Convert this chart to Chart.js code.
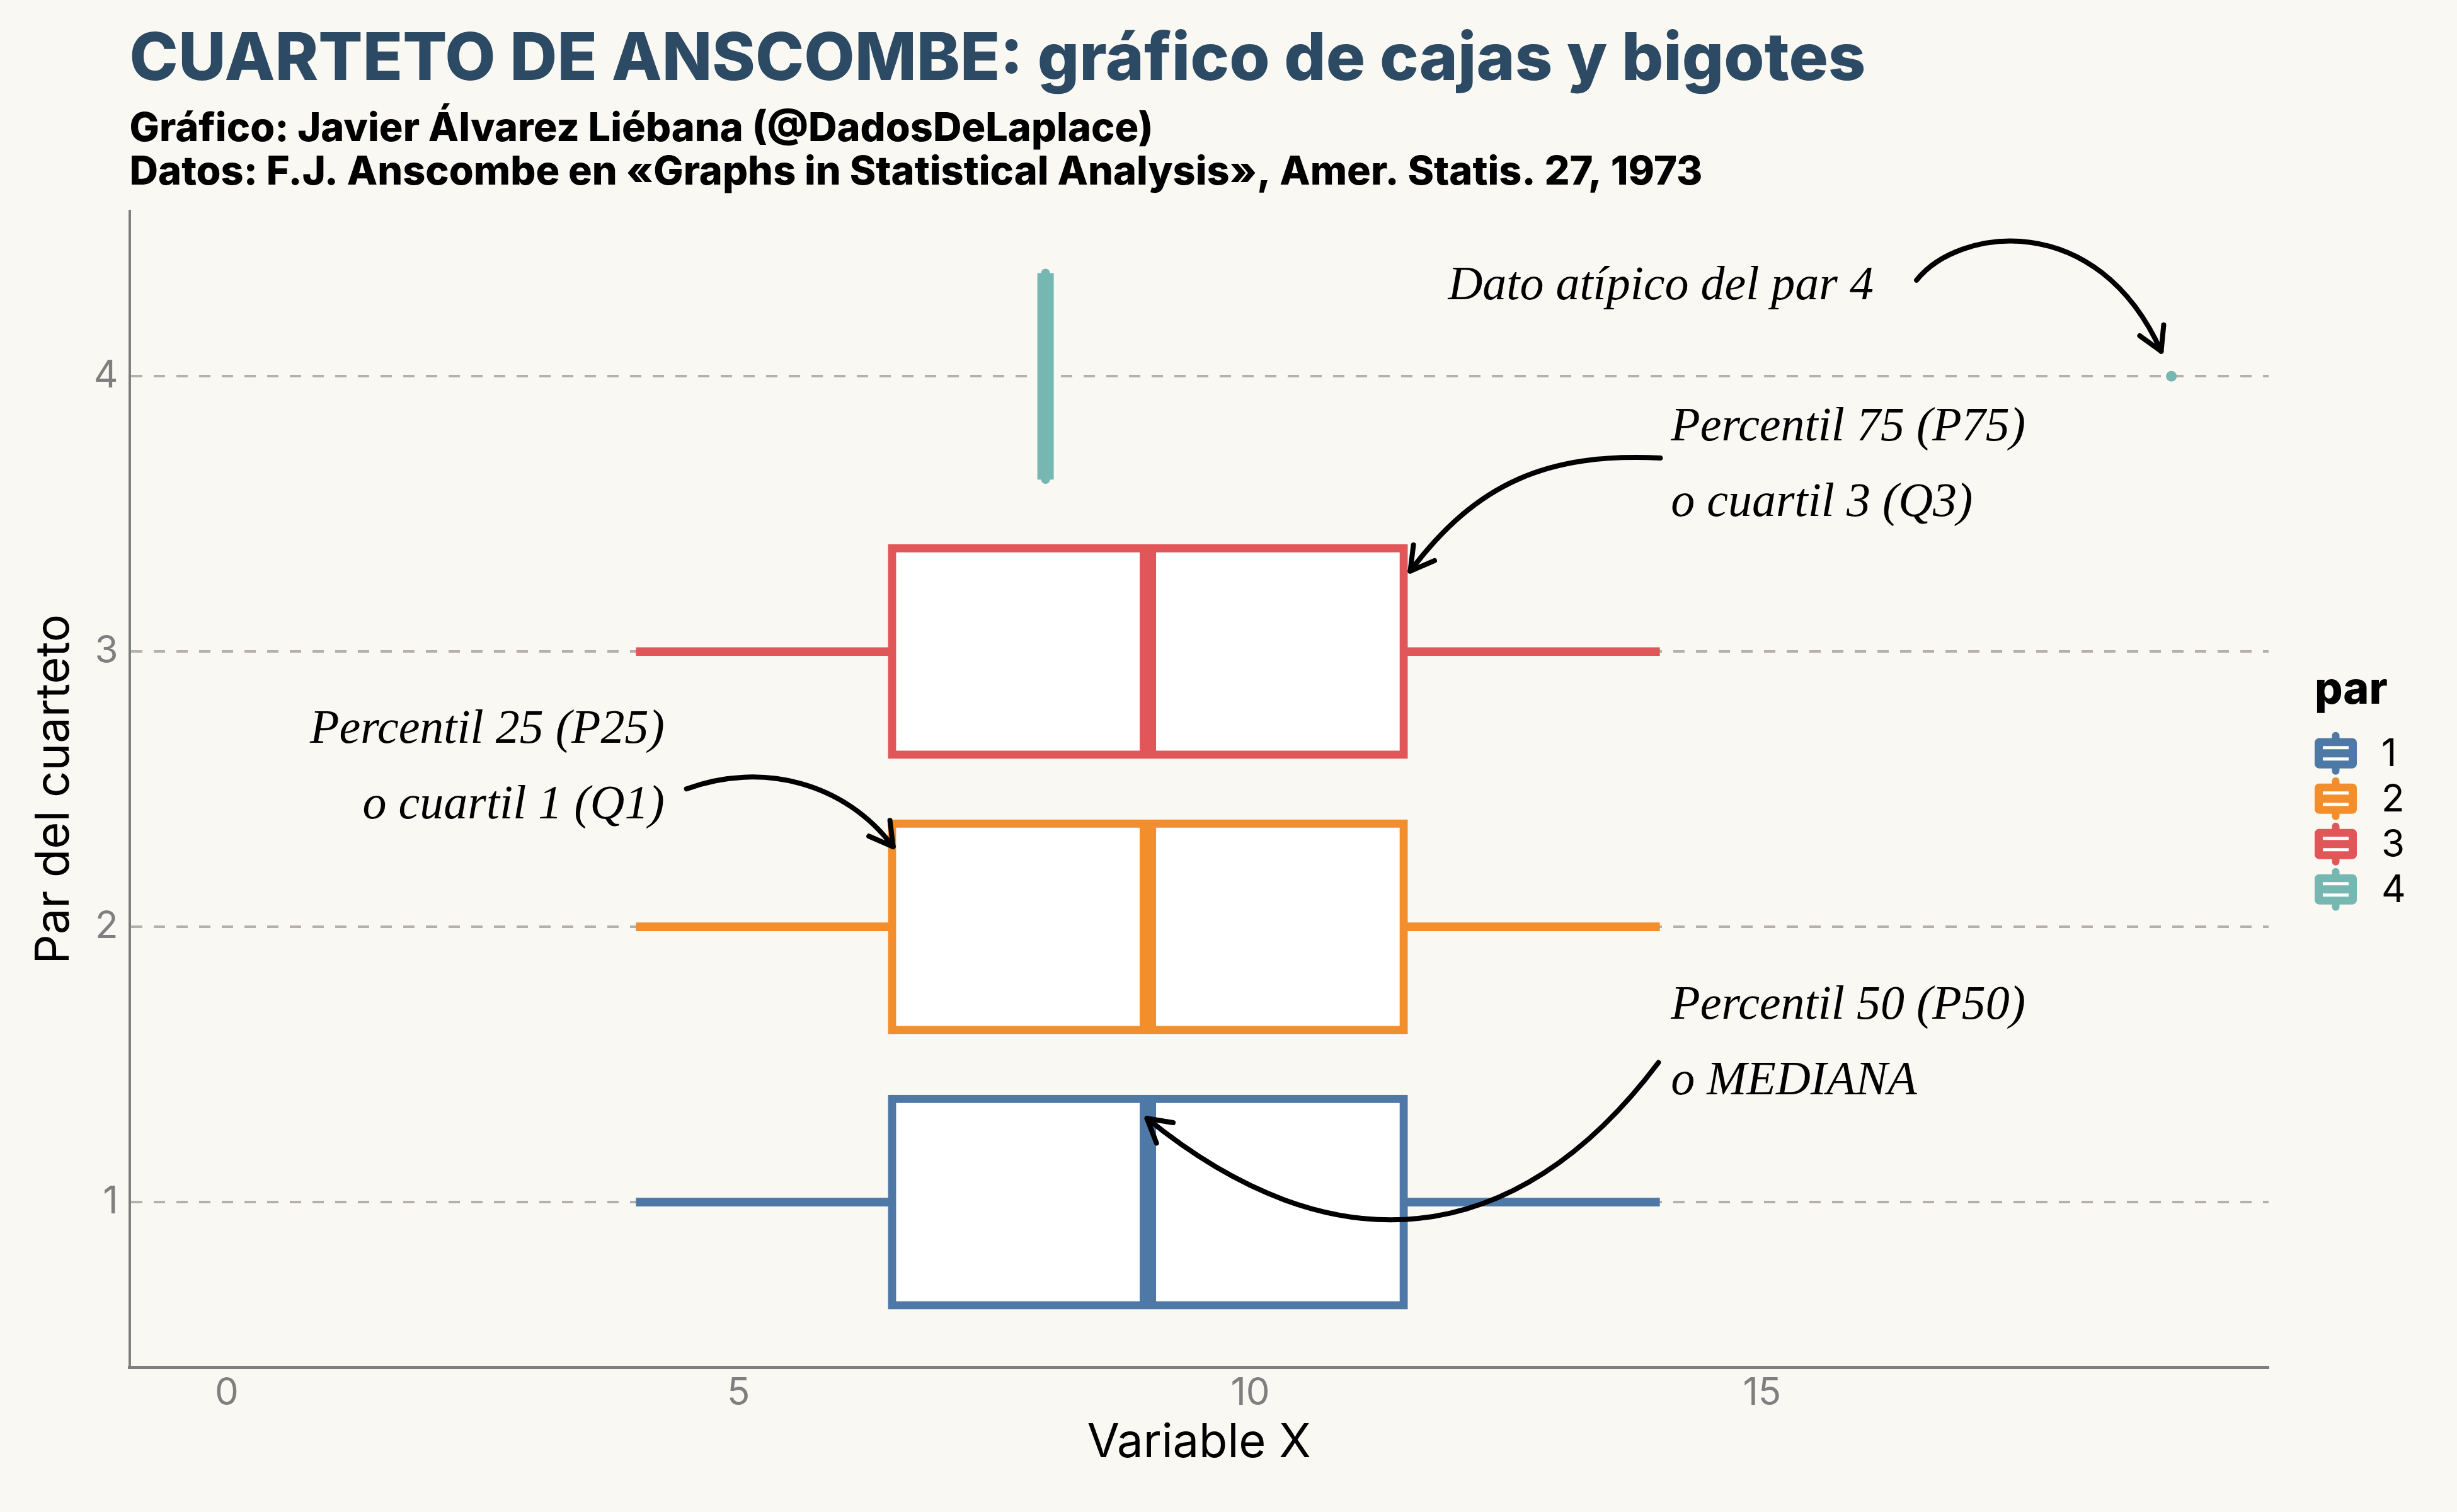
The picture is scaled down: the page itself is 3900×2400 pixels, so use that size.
<!DOCTYPE html>
<html><head><meta charset="utf-8">
<script src="https://cdn.jsdelivr.net/npm/chart.js@4.4.1/dist/chart.umd.min.js"></script>
<style>html,body{margin:0;padding:0;background:#FAF8F3;}canvas{display:block;}</style>
</head><body>
<canvas id="c" width="3900" height="2400" style="width:3900px;height:2400px"></canvas>
<script>
// ---- data ----
const categories = ['1', '2', '3', '4'];
const pairPos = [1, 2, 3, 4];
const whiskerLow = [4, 4, 4, 8];
const q1 = [6.5, 6.5, 6.5, 8];
const medianX = [9, 9, 9, 8];
const q3 = [11.5, 11.5, 11.5, 8];
const whiskerHigh = [14, 14, 14, 8];
const outlierX = [19];
const outlierPair = [4];
const xTickValues = [0, 5, 10, 15];
const yTickValues = [1, 2, 3, 4];
const pairColors = ['#4E79A7', '#F28E2B', '#E15759', '#76B7B2'];

const titleText = 'CUARTETO DE ANSCOMBE: gráfico de cajas y bigotes';
const subtitleLines = ['Gráfico: Javier Álvarez Liébana (@DadosDeLaplace)',
  'Datos: F.J. Anscombe en «Graphs in Statistical Analysis», Amer. Statis. 27, 1973'];
const legendTitle = 'par';

// annotations (positions in data units)
const noteLines = [['Dato atípico del par 4'], ['Percentil 75 (P75)', 'o cuartil 3 (Q3)'],
  ['Percentil 50 (P50)', 'o MEDIANA'], ['Percentil 25 (P25)', 'o cuartil 1 (Q1)']];
const noteX = [16.09, 14.11, 14.11, 4.277];
const noteY = [4.281, 3.767, 1.667, 2.668];
const noteAlign = ['right', 'left', 'left', 'right'];
const arrowOutlier = [[16.51, 4.349], [16.92, 4.541], [18.27, 4.610], [18.90, 4.091]];
const arrowQ3 = [[14.006, 3.703], [12.917, 3.723], [12.215, 3.616], [11.563, 3.292]];
const arrowMedian = [[13.988, 1.507], [12.585, 0.813], [10.794, 0.758], [8.991, 1.304]];
const arrowQ1 = [[4.492, 2.501], [5.225, 2.602], [6.043, 2.524], [6.511, 2.291]];
const arrowPaths = [arrowOutlier, arrowQ3, arrowMedian, arrowQ1];

const boxFraction = 0.75;
const FONT = 'Inter';

const medianPlugin = {
  id: 'medians',
  afterDatasetsDraw(chart) {
    const {ctx, scales: {x, y}} = chart;
    ctx.save();
    ctx.lineWidth = 26;
    medianX.forEach((m, i) => {
      const px = x.getPixelForValue(m);
      const yTop = y.getPixelForValue(pairPos[i] + boxFraction / 2);
      const yBot = y.getPixelForValue(pairPos[i] - boxFraction / 2);
      ctx.strokeStyle = pairColors[i];
      ctx.lineCap = 'butt';
      ctx.beginPath(); ctx.moveTo(px, yBot); ctx.lineTo(px, yTop); ctx.stroke();
      if (q1[i] === q3[i]) {
        // collapsed box: small rounded caps like the original
        ctx.fillStyle = pairColors[i];
        [yTop, yBot].forEach(yy => { ctx.beginPath(); ctx.arc(px, yy, 7, 0, Math.PI * 2); ctx.fill(); });
      }
    });
    ctx.restore();
  }
};

const notesPlugin = {
  id: 'notes',
  afterDraw(chart) {
    const {ctx, scales: {x, y}} = chart;
    ctx.save();
    ctx.fillStyle = '#000';
    ctx.font = 'italic 76px "Liberation Serif"';
    ctx.textBaseline = 'alphabetic';
    noteLines.forEach((lines, i) => {
      ctx.textAlign = noteAlign[i];
      const px = x.getPixelForValue(noteX[i]);
      const py = y.getPixelForValue(noteY[i]);
      lines.forEach((t, j) => ctx.fillText(t, px, py + j * 120));
    });
    ctx.strokeStyle = '#000'; ctx.lineWidth = 8; ctx.lineCap = 'round'; ctx.lineJoin = 'round';
    arrowPaths.forEach(pts => {
      const p = pts.map(([vx, vy]) => [x.getPixelForValue(vx), y.getPixelForValue(vy)]);
      ctx.beginPath();
      ctx.moveTo(p[0][0], p[0][1]);
      ctx.bezierCurveTo(p[1][0], p[1][1], p[2][0], p[2][1], p[3][0], p[3][1]);
      ctx.stroke();
      const ang = Math.atan2(p[3][1] - p[2][1], p[3][0] - p[2][0]);
      const L = 42, a = 0.52;
      ctx.beginPath();
      ctx.moveTo(p[3][0] - L * Math.cos(ang - a), p[3][1] - L * Math.sin(ang - a));
      ctx.lineTo(p[3][0], p[3][1]);
      ctx.lineTo(p[3][0] - L * Math.cos(ang + a), p[3][1] - L * Math.sin(ang + a));
      ctx.stroke();
    });
    ctx.restore();
  }
};

const legendPlugin = {
  id: 'parLegend',
  afterDraw(chart) {
    const {ctx, chartArea: ca} = chart;
    const cy = (ca.top + ca.bottom) / 2;
    const x0 = ca.right + 73;
    ctx.save();
    ctx.fillStyle = '#000';
    ctx.font = `800 70px ${FONT}`;
    ctx.textAlign = 'left'; ctx.textBaseline = 'alphabetic';
    ctx.fillText(legendTitle, x0, cy - 136);
    categories.forEach((c, k) => {
      const yc = cy - 57 + 72 * k;
      const col = pairColors[k];
      ctx.strokeStyle = col; ctx.lineWidth = 12; ctx.lineCap = 'round';
      ctx.beginPath(); ctx.moveTo(x0 + 33.5, yc - 28); ctx.lineTo(x0 + 33.5, yc + 28); ctx.stroke();
      ctx.fillStyle = col;
      ctx.beginPath(); ctx.roundRect(x0, yc - 24, 67, 48, 7); ctx.fill();
      ctx.strokeStyle = '#FFFFFF'; ctx.lineWidth = 5; ctx.lineCap = 'butt';
      ctx.beginPath();
      ctx.moveTo(x0 + 13, yc - 9); ctx.lineTo(x0 + 54, yc - 9);
      ctx.moveTo(x0 + 13, yc + 9); ctx.lineTo(x0 + 54, yc + 9);
      ctx.stroke();
      ctx.fillStyle = '#000'; ctx.font = `400 60px ${FONT}`; ctx.textBaseline = 'middle';
      ctx.fillText(c, x0 + 106, yc + 2);
    });
    ctx.restore();
  }
};

const chart = new Chart(document.getElementById('c'), {
  type: 'bar',
  data: {
    labels: categories,
    datasets: [
      {
        type: 'bar', label: 'caja', indexAxis: 'y', grouped: false, order: 1,
        data: pairPos.map((p, i) => ({x: [q1[i], q3[i]], y: p})),
        backgroundColor: '#FFFFFF', borderColor: pairColors, borderWidth: 13,
        borderSkipped: false, inflateAmount: 6.5,
        categoryPercentage: 1, barPercentage: boxFraction
      },
      {
        type: 'bar', label: 'bigote', indexAxis: 'y', grouped: false, order: 2,
        data: pairPos.map((p, i) => ({x: [whiskerLow[i], whiskerHigh[i]], y: p})),
        backgroundColor: pairColors, borderWidth: 0,
        barThickness: 13, maxBarThickness: 13
      },
      {
        type: 'scatter', label: 'atípico', order: 0,
        data: outlierX.map((v, i) => ({x: v, y: outlierPair[i]})),
        backgroundColor: pairColors[3], borderWidth: 0, pointRadius: 8.5
      }
    ]
  },
  options: {
    responsive: false, animation: false, devicePixelRatio: 1,
    layout: {padding: {left: 42, right: 299, top: 33, bottom: 65}},
    scales: {
      x: {
        type: 'linear', min: -0.95, max: 19.95, offset: false,
        afterBuildTicks: s => { s.ticks = xTickValues.map(v => ({value: v})); },
        grid: {display: false, drawTicks: false, offset: false},
        border: {display: true, color: '#7F7F7F', width: 5},
        ticks: {color: '#7F7F7F', padding: 6, font: {family: FONT, size: 60, weight: '400'}},
        title: {display: true, text: 'Variable X', color: '#000',
          font: {family: FONT, size: 74, weight: '400'}, padding: {top: -8, bottom: 0}}
      },
      y: {
        type: 'linear', min: 0.4, max: 4.6, offset: false,
        afterBuildTicks: s => { s.ticks = yTickValues.map(v => ({value: v})); },
        grid: {display: true, drawTicks: false, offset: false, color: '#B5B0AA', lineWidth: 4},
        border: {display: true, color: '#7F7F7F', width: 4, dash: [18, 18]},
        ticks: {color: '#7F7F7F', padding: 18, font: {family: FONT, size: 60, weight: '400'}},
        title: {display: true, text: 'Par del cuarteto', color: '#000',
          font: {family: FONT, size: 74, weight: '400'}, padding: {top: 0, bottom: 0}}
      }
    },
    plugins: {
      legend: {display: false},
      tooltip: {enabled: false},
      title: {display: true, text: titleText, align: 'start', fullSize: false, color: '#2C4A63',
        font: {family: FONT, size: 104, weight: '800', lineHeight: 1.2}, padding: {top: 0, bottom: 13}},
      subtitle: {display: true, text: subtitleLines, align: 'start', fullSize: false, color: '#000',
        font: {family: FONT, size: 63, weight: '800', lineHeight: 1.09}, padding: {top: 0, bottom: 27}}
    }
  },
  plugins: [medianPlugin, notesPlugin, legendPlugin]
});
</script>
</body></html>
